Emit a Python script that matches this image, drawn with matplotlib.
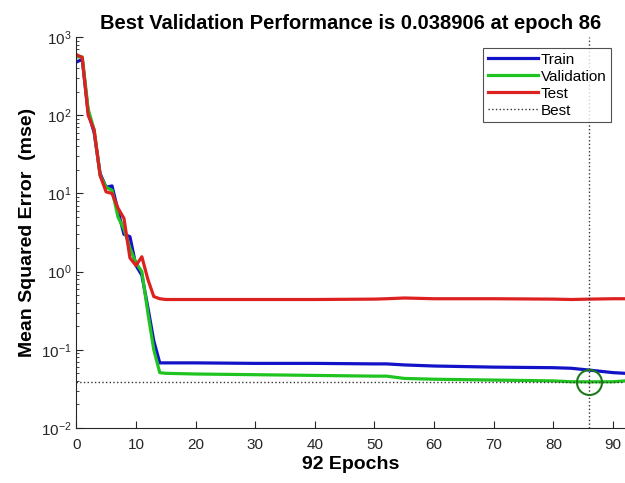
import numpy as np
import matplotlib
matplotlib.use('Agg')
import matplotlib.pyplot as plt

plt.rcParams['font.family'] = ['Liberation Sans', 'DejaVu Sans']

# datos
epochs = [0, 1, 2, 3, 4, 5, 6, 7, 8, 9, 10, 11, 12, 13, 14, 15, 20, 30, 40, 50,
          52, 55, 60, 70, 80, 83, 86, 90, 92]
train = [480, 520, 110, 60, 18, 12, 12.5, 6, 3.0, 2.8, 1.2, 0.9, 0.35, 0.13, 0.068,
         0.068, 0.068, 0.067, 0.067, 0.066, 0.066, 0.064, 0.062, 0.060, 0.059,
         0.058, 0.055, 0.051, 0.050]
val = [560, 560, 120, 65, 17, 12, 11, 5, 3.5, 2.0, 1.3, 1.0, 0.3, 0.1, 0.051,
       0.050, 0.049, 0.048, 0.047, 0.046, 0.046, 0.043, 0.042, 0.041, 0.040,
       0.039, 0.038906, 0.039, 0.040]
test = [600, 550, 100, 65, 17, 10.5, 10, 6.5, 4.8, 1.5, 1.2, 1.55, 0.8, 0.48, 0.45,
        0.44, 0.44, 0.44, 0.44, 0.445, 0.45, 0.46, 0.45, 0.45, 0.445, 0.44, 0.445,
        0.45, 0.45]
best_epoch = 86
best_perf = 0.038906

fig = plt.figure(figsize=(6.25, 4.83), dpi=100)
ax = fig.add_axes([0.122, 0.114, 0.878, 0.809])

ax.semilogy(epochs, train, color='#1212c8', lw=2.3, label='Train')
ax.semilogy(epochs, val, color='#20c420', lw=2.3, label='Validation')
ax.semilogy(epochs, test, color='#dd2020', lw=2.3, label='Test')
ax.plot([0, 92], [best_perf, best_perf], ':', color='#333333', lw=1, label='Best')
ax.plot([best_epoch, best_epoch], [1e-2, 1e3], ':', color='#333333', lw=1)
ax.plot(best_epoch, best_perf, 'o', ms=18, mfc='none', mec='#1a7a1a', mew=1.5)

ax.set_xlim(0, 92)
ax.set_ylim(1e-2, 1e3)
ax.set_xticks(range(0, 91, 10))
ax.tick_params(which='both', direction='in', colors='#262626', labelsize=11)
ax.tick_params(axis='x', pad=7)
ax.tick_params(which='major', length=5)
ax.tick_params(which='minor', length=2.5)
ax.spines['top'].set_visible(False)
ax.spines['right'].set_visible(False)
ax.spines['left'].set_color('#262626')
ax.spines['bottom'].set_color('#262626')

ax.set_title('Best Validation Performance is 0.038906 at epoch 86',
             fontsize=14.5, fontweight='bold', pad=6)
ax.set_xlabel('92 Epochs', fontsize=14, fontweight='bold', labelpad=3)
ax.set_ylabel('Mean Squared Error  (mse)', fontsize=14, fontweight='bold', labelpad=3)

leg = ax.legend(loc='upper right', bbox_to_anchor=(0.98, 0.98), fontsize=11,
                fancybox=False, edgecolor='#262626', handlelength=3.3,
                handletextpad=0.15, borderpad=0.3, labelspacing=0.2,
                borderaxespad=0.2)
leg.get_frame().set_linewidth(0.8)

fig.savefig('out.png', dpi=100)
